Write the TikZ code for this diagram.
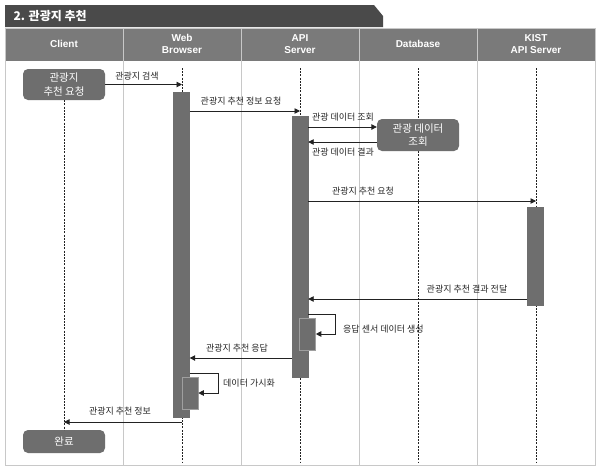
\documentclass[tikz,border=0pt]{standalone}
\usepackage{fontspec}
\setmainfont{Liberation Sans}
\newfontfamily\kr{Noto Sans CJK KR}
\usetikzlibrary{arrows.meta}

\definecolor{titlefill}{HTML}{4A4A4A}
\definecolor{headfill}{HTML}{7A7A7A}
\definecolor{gridline}{HTML}{C8C8C8}
\definecolor{barfill}{HTML}{6E6E6E}
\definecolor{inkline}{HTML}{222222}

\begin{document}
\begin{tikzpicture}[x=1pt, y=-1pt,
    head_style/.style={text=white, font=\fontsize{10}{12.5}\selectfont\bfseries, align=center},
    box_style/.style={fill=barfill, rounded corners=5pt, text=white, font=\kr\fontsize{10.5}{13.5}\selectfont, align=center, minimum width=82pt, inner sep=0pt},
    act_style/.style={fill=barfill, draw=barfill, minimum width=16pt, inner sep=0pt, anchor=north},
    sub_style/.style={act_style, draw=gray!75, line width=0.6pt},
    life_style/.style={draw=inkline, line width=0.8pt, dash pattern=on 2pt off 1.2pt},
    msg_style/.style={draw=inkline, line width=0.9pt, -{Triangle[length=5.5pt, width=5.5pt]}},
    lbl_style/.style={font=\kr\fontsize{9}{10}\selectfont, text=black!85, inner sep=0pt}
]
\useasboundingbox (0,0) rectangle (604,472);
\fill[white] (0,0) rectangle (604,472);

% title bar
\fill[titlefill] (5,5) -- (374,5) -- (383,16) -- (383,27) -- (5,27) -- cycle;
\node[text=white, font=\kr\fontsize{12}{14}\selectfont\bfseries, anchor=west] (title) at (10,16) {2. 관광지 추천};

% header row and columns
\fill[headfill] (5,28) rectangle (595,61);
\draw[gridline, line width=1pt] (5,28) rectangle (595,465);
\foreach \x in {123,241,359,477} {
    \draw[gridline, line width=1pt] (\x,28) -- (\x,465);
}
\node[head_style] (h_cl)  at (64,44)  {Client};
\node[head_style] (h_br)  at (182,44) {Web\\Browser};
\node[head_style] (h_api) at (300,44) {API\\Server};
\node[head_style] (h_db)  at (418,44) {Database};
\node[head_style] (h_ks)  at (536,44) {KIST\\API Server};

% lifelines
\foreach \n/\x in {cl/64, br/182, api/300, db/418, ks/536} {
    \coordinate (\n_top) at (\x,68);
    \coordinate (\n_bot) at (\x,462);
}
\node[box_style, minimum height=31pt] (req)  at (64,84.5)  {관광지\\추천 요청};
\node[box_style, minimum height=23pt] (done) at (64,441.5) {완료};
\draw[life_style] (req.south) -- (done.north);
\foreach \n in {br, api, db, ks} {
    \draw[life_style] (\n_top) -- (\n_bot);
}

% activation bars
\node[act_style, minimum height=325pt] (br_bar)  at (181.5,92)  {};
\node[sub_style, minimum height=32pt]  (br_sub)  at (190,377)   {};
\node[act_style, minimum height=261pt] (api_bar) at (300,116)   {};
\node[sub_style, minimum height=32pt]  (api_sub) at (307.5,318) {};
\node[act_style, minimum height=98pt]  (ks_bar)  at (535.5,207) {};
\node[box_style, minimum height=32pt]  (query)   at (418,135)   {관광 데이터\\조회};

% message levels
\coordinate (m1) at (0,111);
\coordinate (m2) at (0,127);
\coordinate (m3) at (0,142);
\coordinate (m4) at (0,201);
\coordinate (m5) at (0,299);
\coordinate (m6) at (0,314);
\coordinate (m7) at (0,334);
\coordinate (m8) at (0,358);
\coordinate (m9) at (0,373);
\coordinate (m10) at (0,393);
\coordinate (m11) at (0,422);
\coordinate (loop_api) at (335,0);
\coordinate (loop_br) at (218,0);

% messages
\draw[msg_style] (req.east) -- (req.east -| br_top);
\node[lbl_style] (l1) at (137,76.5) {관광지 검색};
\draw[msg_style] (br_bar.east |- m1) -- (api_top |- m1);
\node[lbl_style] (l2) at (241,101) {관광지 추천 정보 요청};
\draw[msg_style] (api_bar.east |- m2) -- (query.west |- m2);
\node[lbl_style] (l3) at (343,117) {관광 데이터 조회};
\draw[msg_style] (query.west |- m3) -- (api_bar.east |- m3);
\node[lbl_style] (l4) at (343,152) {관광 데이터 결과};
\draw[msg_style] (api_bar.east |- m4) -- (ks_top |- m4);
\node[lbl_style] (l5) at (363,191) {관광지 추천 요청};
\draw[msg_style] (ks_bar.west |- m5) -- (api_bar.east |- m5);
\node[lbl_style] (l6) at (467,289) {관광지 추천 결과 전달};
\draw[msg_style] (api_bar.east |- m6) -- (loop_api |- m6) -- (loop_api |- m7) -- (api_sub.east |- m7);
\node[lbl_style, anchor=west] (l7) at (343,329) {응답 센서 데이터 생성};
\draw[msg_style] (api_bar.west |- m8) -- (br_bar.east |- m8);
\node[lbl_style] (l8) at (237,348) {관광지 추천 응답};
\draw[msg_style] (br_bar.east |- m9) -- (loop_br |- m9) -- (loop_br |- m10) -- (br_sub.east |- m10);
\node[lbl_style, anchor=west] (l9) at (223,383) {데이터 가시화};
\draw[msg_style] (br_top |- m11) -- (cl_top |- m11);
\node[lbl_style] (l10) at (120,411) {관광지 추천 정보};
\end{tikzpicture}
\end{document}
